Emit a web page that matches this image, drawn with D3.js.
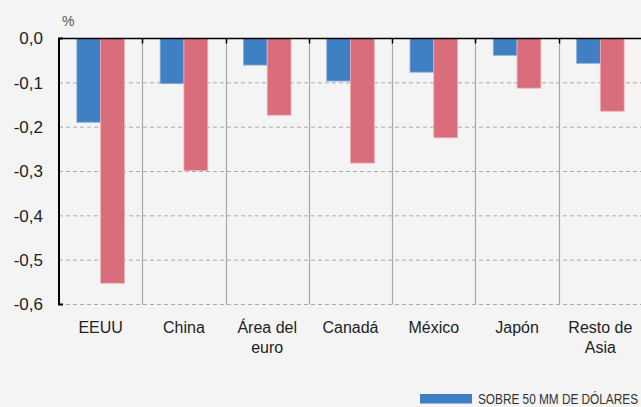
<!DOCTYPE html>
<html>
<head>
<meta charset="utf-8">
<script src="https://cdn.jsdelivr.net/npm/d3@7"></script>
<style>
  body { margin: 0; background: #f4f4f4; }
  svg { display: block; font-family: "Liberation Sans", Arial, sans-serif; }
</style>
</head>
<body>
<div id="chart"></div>
<script>
var categories = [["EEUU"], ["China"], ["Área del", "euro"], ["Canadá"], ["México"], ["Japón"], ["Resto de", "Asia"]];
var serie50 = [-0.189, -0.102, -0.060, -0.096, -0.076, -0.038, -0.056];
var serie100 = [-0.552, -0.298, -0.173, -0.281, -0.224, -0.112, -0.164];
var yTicks = [0, -0.1, -0.2, -0.3, -0.4, -0.5, -0.6];
var legendLabel = "SOBRE 50 MM DE DÓLARES";

var totalWidth = 641,
    totalHeight = 407,
    margin = {top: 38.5, left: 59},
    width = 583,
    height = 266;

var svg = d3.select("#chart")
    .append("svg")
    .attr("width", totalWidth)
    .attr("height", totalHeight);

var chartgroup = svg.append("g")
    .attr("transform", "translate(" + margin.left + "," + margin.top + ")");

var names = categories.map(d => d.join(" "));

var x = d3.scaleBand()
    .domain(names)
    .range([0, width]);

var x1 = d3.scaleBand()
    .domain(["a", "b"])
    .range([0, x.bandwidth()])
    .paddingOuter(0.75);

var y = d3.scaleLinear()
    .domain([-0.6, 0])
    .range([height, 0]);

// dashed gridlines
chartgroup.append("g")
    .selectAll("line")
    .data(yTicks.filter(d => d != 0))
    .enter()
    .append("line")
    .attr("x1", 0)
    .attr("x2", width)
    .attr("y1", d => y(d))
    .attr("y2", d => y(d))
    .style("stroke", "#aaa")
    .style("stroke-width", 1)
    .style("stroke-dasharray", "4,3");

// category separators
chartgroup.append("g")
    .selectAll("line")
    .data(names.slice(1))
    .enter()
    .append("line")
    .attr("x1", d => Math.round(x(d)) + 0.5)
    .attr("x2", d => Math.round(x(d)) + 0.5)
    .attr("y1", 0)
    .attr("y2", height)
    .style("stroke", "#a8a8a8")
    .style("stroke-width", 1.2);

// bars
var groups = chartgroup.append("g")
    .selectAll("g")
    .data(names)
    .enter()
    .append("g")
    .attr("transform", d => "translate(" + x(d) + ",0)");

groups.append("rect")
    .attr("x", x1("a"))
    .attr("y", y(0))
    .attr("width", x1.bandwidth())
    .attr("height", (d, i) => y(serie50[i]) - y(0))
    .style("fill", "#3f7fc4")
    .style("stroke", "#8fb3dc")
    .style("stroke-width", 0.8);

groups.append("rect")
    .attr("x", x1("b"))
    .attr("y", y(0))
    .attr("width", x1.bandwidth())
    .attr("height", (d, i) => y(serie100[i]) - y(0))
    .style("fill", "#d96d7b")
    .style("stroke", "#ecb0b8")
    .style("stroke-width", 0.8);

// top axis (zero line) with small ticks
chartgroup.append("line")
    .attr("x1", 0)
    .attr("x2", width)
    .attr("y1", 0)
    .attr("y2", 0)
    .style("stroke", "#000")
    .style("stroke-width", 1.5);

chartgroup.append("g")
    .selectAll("line")
    .data(names.slice(1))
    .enter()
    .append("line")
    .attr("x1", d => Math.round(x(d)) + 0.5)
    .attr("x2", d => Math.round(x(d)) + 0.5)
    .attr("y1", 0)
    .attr("y2", 5)
    .style("stroke", "#000")
    .style("stroke-width", 1.5);

// left axis
var yAxis = chartgroup.append("g")
    .call(d3.axisLeft(y)
        .tickValues(yTicks)
        .tickSize(0)
        .tickPadding(16)
        .tickFormat(d => d3.format(".1f")(d).replace("−", "-").replace(".", ",")));

yAxis.select(".domain")
    .attr("d", "M4," + height + "H0V0H4")
    .style("stroke", "#000")
    .style("stroke-width", 2);

yAxis.selectAll("text")
    .style("font-size", "17px")
    .style("font-family", "Liberation Sans, Arial, sans-serif")
    .style("fill", "#222");

svg.append("text")
    .attr("x", 62)
    .attr("y", 26)
    .text("%")
    .style("font-size", "14px")
    .style("fill", "#555");

// category labels
var labels = chartgroup.append("g")
    .selectAll("text")
    .data(categories)
    .enter()
    .append("text")
    .attr("x", (d, i) => x(names[i]) + x.bandwidth() / 2)
    .attr("y", height + 28)
    .attr("text-anchor", "middle")
    .style("font-size", "16px")
    .style("fill", "#222");

labels.selectAll("tspan")
    .data(d => d)
    .enter()
    .append("tspan")
    .attr("x", function() { return d3.select(this.parentNode).attr("x"); })
    .attr("dy", (d, i) => i == 0 ? 0 : 20.5)
    .text(d => d);

// legend
svg.append("rect")
    .attr("x", 420)
    .attr("y", 394)
    .attr("width", 52)
    .attr("height", 9.5)
    .style("fill", "#3f7fc4");

svg.append("text")
    .attr("x", 478)
    .attr("y", 403.5)
    .attr("textLength", 160)
    .attr("lengthAdjust", "spacingAndGlyphs")
    .text(legendLabel)
    .style("font-size", "14px")
    .style("fill", "#333");
</script>
</body>
</html>
